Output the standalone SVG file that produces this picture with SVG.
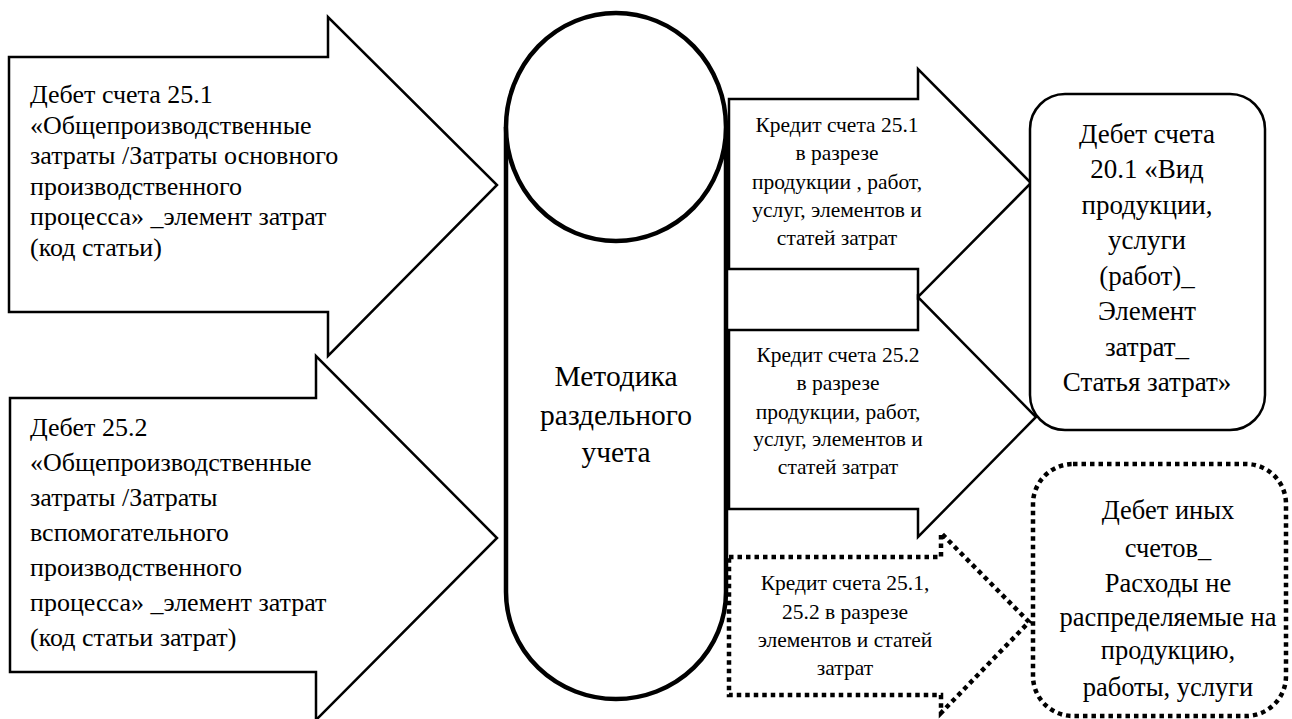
<svg xmlns="http://www.w3.org/2000/svg" width="1292" height="719" viewBox="0 0 1292 719">
<style>
.bg{fill:#ffffff}
.shape{fill:#ffffff;stroke:#000000;stroke-width:2.5;stroke-linejoin:miter}
.thick{fill:#ffffff;stroke:#000000;stroke-width:4.5}
.dots{fill:#ffffff;stroke:#000000;stroke-width:4.5;stroke-dasharray:4.5 4}
.lt{font-size:26px}
.mt{font-size:21.5px;text-anchor:middle}
.bt{font-size:27px;text-anchor:middle}
.ot{font-size:26.5px;text-anchor:middle}
.ct{font-size:29.5px;text-anchor:middle}
</style>
<rect class="bg" x="0" y="0" width="1292" height="719"/>

<g font-family="'Liberation Serif', 'DejaVu Serif', serif" fill="#000000">
<g id="connectors">
  <g id="arrow-debit-25-1">
    <path class="shape" d="M9,57 H328 V17 L497,185 L328,356 V312 H9 Z"/>
    <text class="lt" x="30" y="103">Дебет счета 25.1</text>
    <text class="lt" x="30" y="134">«Общепроизводственные</text>
    <text class="lt" x="30" y="164">затраты /Затраты основного</text>
    <text class="lt" x="30" y="195">производственного</text>
    <text class="lt" x="30" y="225">процесса» _элемент затрат</text>
    <text class="lt" x="30" y="256">(код статьи)</text>
  </g>
  <g id="arrow-debit-25-2">
    <path class="shape" d="M10,398 H316 V356 L497,538 L316,720 V672 H10 Z"/>
    <text class="lt" x="30" y="436">Дебет 25.2</text>
    <text class="lt" x="30" y="471">«Общепроизводственные</text>
    <text class="lt" x="30" y="506">затраты /Затраты</text>
    <text class="lt" x="30" y="541">вспомогательного</text>
    <text class="lt" x="30" y="576">производственного</text>
    <text class="lt" x="30" y="611">процесса» _элемент затрат</text>
    <text class="lt" x="30" y="646">(код статьи затрат)</text>
  </g>
  <g id="arrow-credit-25-1">
    <path class="shape" d="M729,99 H918 V69 L1031,183 L918,297 V269 H729 Z"/>
    <text class="mt" x="837" y="132">Кредит счета 25.1</text>
    <text class="mt" x="837" y="160">в разрезе</text>
    <text class="mt" x="837" y="189">продукции , работ,</text>
    <text class="mt" x="837" y="217">услуг, элементов и</text>
    <text class="mt" x="837" y="245">статей затрат</text>
  </g>
  <g id="arrow-credit-25-2">
    <path class="shape" d="M729,330 H918 V297 L1036,417 L918,537 V509 H729 Z"/>
    <text class="mt" x="838" y="362">Кредит счета 25.2</text>
    <text class="mt" x="838" y="390">в разрезе</text>
    <text class="mt" x="838" y="419">продукции, работ,</text>
    <text class="mt" x="838" y="446">услуг, элементов и</text>
    <text class="mt" x="838" y="474">статей затрат</text>
  </g>
  <g id="arrow-credit-other">
    <path class="dots" d="M729,557 H941 V533 L1029,622 L941,713 V695 H729 Z"/>
    <text class="mt" x="845" y="590">Кредит счета 25.1,</text>
    <text class="mt" x="845" y="619">25.2 в разрезе</text>
    <text class="mt" x="845" y="647">элементов и статей</text>
    <text class="mt" x="845" y="675">затрат</text>
  </g>
</g>

<g id="node-method">
  <path class="thick" d="M506,127 V592 A110,107 0 0 0 726,592 V127"/>
  <ellipse class="thick" cx="616" cy="127" rx="110" ry="114"/>
  <text class="ct" x="616" y="386">Методика</text>
  <text class="ct" x="616" y="425">раздельного</text>
  <text class="ct" x="616" y="462">учета</text>
</g>

<g id="node-debit-20-1">
  <rect class="shape" x="1030" y="94" width="235" height="336" rx="35" ry="35"/>
  <text class="bt" x="1147" y="143">Дебет счета</text>
  <text class="bt" x="1147" y="178">20.1 «Вид</text>
  <text class="bt" x="1147" y="214">продукции,</text>
  <text class="bt" x="1147" y="249">услуги</text>
  <text class="bt" x="1147" y="285">(работ)_</text>
  <text class="bt" x="1147" y="320">Элемент</text>
  <text class="bt" x="1147" y="356">затрат_</text>
  <text class="bt" x="1147" y="391">Статья затрат»</text>
</g>

<g id="node-other-accounts">
  <rect class="dots" x="1033" y="464" width="253" height="252" rx="40" ry="40"/>
  <text class="ot" x="1168" y="519">Дебет иных</text>
  <text class="ot" x="1168" y="557">счетов_</text>
  <text class="ot" x="1168" y="592">Расходы не</text>
  <text class="ot" x="1168" y="626">распределяемые на</text>
  <text class="ot" x="1168" y="659">продукцию,</text>
  <text class="ot" x="1168" y="696">работы, услуги</text>
</g>
</g>
</svg>
